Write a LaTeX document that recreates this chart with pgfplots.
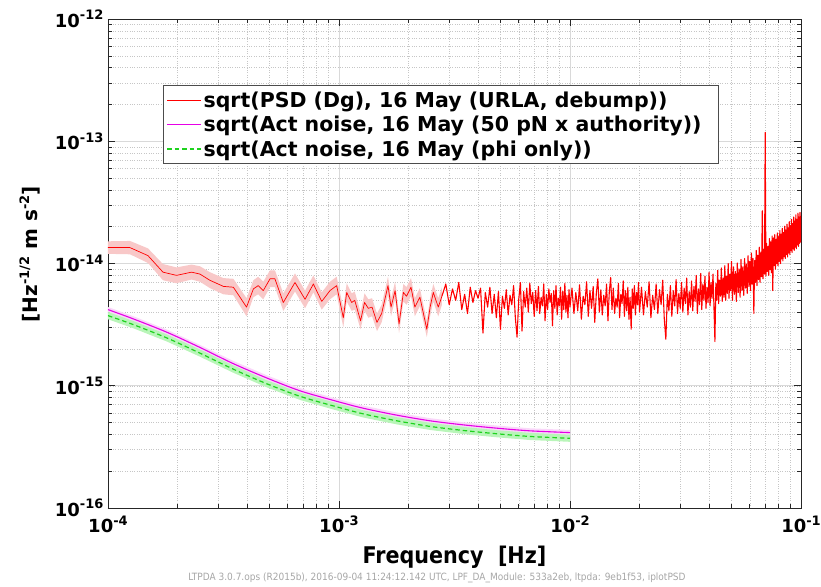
\documentclass[border=0pt]{standalone}
\usepackage{pgfplots}
\pgfplotsset{compat=1.18}
\usepackage{pgfplotstable}
\usepackage{fontspec}
\setmainfont{DejaVu Sans}
\newfontfamily\condfont{DejaVu Sans Condensed}
\definecolor{psdred}{rgb}{1,0,0}
\definecolor{bandred}{RGB}{248,200,200}
\definecolor{actmag}{RGB}{230,0,230}
\definecolor{bandmag}{RGB}{250,215,250}
\definecolor{actgreen}{RGB}{30,210,30}
\definecolor{bandgreen}{RGB}{185,245,185}
\newcommand{\tl}[1]{{\fontsize{18bp}{18bp}\selectfont\bfseries 10\raisebox{0.78ex}{\fontsize{13bp}{13bp}\selectfont\bfseries -#1}}}

% PSD, low-frequency (averaged) part
\pgfplotstableread{
f y
1.0e-4 13.5e-15
1.245e-4 13.5e-15
1.49e-4 11.6e-15
1.73e-4 8.5e-15
1.98e-4 8.0e-15
2.30e-4 8.5e-15
2.50e-4 8.2e-15
2.76e-4 7.3e-15
3.16e-4 6.5e-15
3.49e-4 6.4e-15
3.98e-4 4.4e-15
4.26e-4 6.2e-15
4.47e-4 6.6e-15
4.70e-4 6.0e-15
5.03e-4 7.5e-15
5.28e-4 7.5e-15
5.74e-4 4.8e-15
6.45e-4 7.0e-15
7.13e-4 5.1e-15
7.75e-4 6.8e-15
8.42e-4 4.9e-15
9.14e-4 6.0e-15
9.77e-4 6.6e-15
1.044e-3 3.6e-15
1.08e-3 5.8e-15
1.135e-3 4.8e-15
1.17e-3 5.0e-15
1.24e-3 3.4e-15
1.29e-3 4.8e-15
1.34e-3 4.3e-15
1.39e-3 4.4e-15
1.46e-3 3.3e-15
1.53e-3 3.9e-15
1.63e-3 6.6e-15
1.68e-3 4.4e-15
1.75e-3 6.0e-15
1.82e-3 3.2e-15
1.90e-3 5.8e-15
1.96e-3 5.4e-15
2.05e-3 6.4e-15
2.13e-3 4.4e-15
2.24e-3 5.3e-15
2.40e-3 2.9e-15
2.48e-3 4.4e-15
2.56e-3 5.8e-15
2.69e-3 4.4e-15
2.79e-3 5.4e-15
}\psdlow

% PSD, high-frequency (dense) part
\pgfplotstableread{
f y
2.79e-3 5.4e-15
0.0029 6.8e-15
0.0030 4.6e-15
0.0031 6.2e-15
0.0032 5.0e-15
0.0033 7.0e-15
0.0034 4.2e-15
0.0035 5.6e-15
0.0036 3.9e-15
0.0037 6.4e-15
0.0038 4.8e-15
0.0039 6.0e-15
0.0040 5.2e-15
0.0041 6.3e-15
0.0042 2.7e-15
0.0043 5.8e-15
0.0044 4.4e-15
0.0045 6.4e-15
0.0046 3.9e-15
0.0047 5.6e-15
0.0048 3.6e-15
0.0049 5.9e-15
0.0050 2.9e-15
0.0051 5.4e-15
0.0052 4.3e-15
0.0053 6.1e-15
0.0054 3.8e-15
0.0055 5.5e-15
0.0056 4.6e-15
0.0057 6.6e-15
0.0058 3.6e-15
0.0059 2.5e-15
0.0060 5.1e-15
0.0061 7.0e-15
0.0062 2.8e-15
0.0063 5.9e-15
0.0064 4.4e-15
0.0065 6.3e-15
0.0066 4.0e-15
0.0067 6.9e-15
0.0068 4.7e-15
0.0069 5.8e-15
0.0070 3.7e-15
0.0071 6.0e-15
0.0072 4.1e-15
0.0073 6.5e-15
0.0074 3.9e-15
0.0075 5.3e-15
0.0076 4.5e-15
0.0077 6.8e-15
0.0078 3.4e-15
0.0079 5.6e-15
0.0080 4.2e-15
0.0081 6.2e-15
0.0082 4.8e-15
0.0083 5.7e-15
0.0084 3.1e-15
0.0085 6.0e-15
0.0086 4.3e-15
0.0087 6.6e-15
0.0088 3.8e-15
0.0089 5.2e-15
0.0090 4.5e-15
0.0091 6.4e-15
0.0092 3.5e-15
0.0093 5.9e-15
0.0094 4.2e-15
0.0095 6.9e-15
0.0096 4.0e-15
0.0097 5.5e-15
0.0098 3.6e-15
0.0099 6.1e-15
0.0100 4.4e-15
0.0102 6.3e-15
0.0104 3.9e-15
0.0106 5.8e-15
0.0108 4.1e-15
0.0110 6.7e-15
0.0112 3.5e-15
0.0114 5.4e-15
0.0116 4.6e-15
0.0118 7.1e-15
0.0120 3.7e-15
0.0122 6.0e-15
0.0124 4.3e-15
0.0126 6.5e-15
0.0128 3.3e-15
0.0130 5.7e-15
0.0132 7.5e-15
0.0134 4.0e-15
0.0136 6.1e-15
0.0138 3.8e-15
0.0140 5.5e-15
0.0142 4.5e-15
0.0144 6.8e-15
0.0146 3.4e-15
0.0148 5.9e-15
0.0150 7.7e-15
0.0152 4.2e-15
0.0154 6.3e-15
0.0156 3.9e-15
0.0158 5.2e-15
0.0160 4.4e-15
0.0162 6.9e-15
0.0164 3.6e-15
0.0166 5.6e-15
0.0168 4.7e-15
0.0170 7.2e-15
0.0172 3.7e-15
0.0174 6.0e-15
0.0176 4.1e-15
0.0178 6.4e-15
0.0180 3.5e-15
0.0182 5.3e-15
0.0184 2.9e-15
0.0186 6.2e-15
0.0188 4.3e-15
0.0190 6.6e-15
0.0192 3.8e-15
0.0194 5.8e-15
0.0196 4.6e-15
0.0198 7.0e-15
0.0200 4.0e-15
0.0204 6.4e-15
0.0208 3.8e-15
0.0212 5.9e-15
0.0216 4.4e-15
0.0220 7.1e-15
0.0224 3.6e-15
0.0228 5.5e-15
0.0232 4.2e-15
0.0236 6.8e-15
0.0240 3.9e-15
0.0244 6.1e-15
0.0248 4.6e-15
0.0252 7.3e-15
0.0256 3.5e-15
0.0260 2.4e-15
0.0264 5.6e-15
0.0268 4.1e-15
0.0272 6.6e-15
0.0276 3.7e-15
0.0280 6.0e-15
0.0284 4.5e-15
0.0288 7.4e-15
0.0292 3.9e-15
0.0296 5.7e-15
0.0300 4.3e-15
0.0304 7.0e-15
0.0308 4.0e-15
0.0312 6.3e-15
0.0316 4.7e-15
0.0320 7.6e-15
0.0324 3.8e-15
0.0328 5.9e-15
0.0332 4.4e-15
0.0336 7.2e-15
0.0340 4.1e-15
0.0344 6.5e-15
0.0348 4.9e-15
0.0352 8.0e-15
0.0356 3.9e-15
0.0360 6.2e-15
0.0364 4.6e-15
0.0368 8.3e-15
0.0372 4.2e-15
0.0376 6.8e-15
0.0380 5.0e-15
0.0384 7.9e-15
0.0388 4.3e-15
0.0392 6.4e-15
0.0396 4.8e-15
0.0400 8.5e-15
0.0404 4.5e-15
0.0408 7.0e-15
0.0412 5.2e-15
0.0416 8.2e-15
0.0420 4.4e-15
0.0424 2.3e-15
0.0428 6.9e-15
0.0432 5.0e-15
0.0436 8.8e-15
0.0440 4.7e-15
0.0444 7.3e-15
0.0448 5.4e-15
0.0452 9.2e-15
0.0456 4.9e-15
0.0460 7.6e-15
0.0464 5.3e-15
0.0468 9.6e-15
0.0472 5.0e-15
0.0476 7.9e-15
0.0480 5.7e-15
0.0484 10.0e-15
0.0488 5.2e-15
0.0492 8.2e-15
0.0496 6.0e-15
0.0500 10.4e-15
0.0505 5.0e-15
0.0510 9.4e-15
0.0515 5.6e-15
0.0520 8.6e-15
0.0525 4.9e-15
0.0530 10.1e-15
0.0535 5.8e-15
0.0540 9.0e-15
0.0545 5.3e-15
0.0550 10.8e-15
0.0555 6.0e-15
0.0560 9.4e-15
0.0565 5.5e-15
0.0570 11.0e-15
0.0575 6.3e-15
0.0580 9.9e-15
0.0585 5.7e-15
0.0590 11.6e-15
0.0595 6.5e-15
0.0600 10.4e-15
0.0605 6.0e-15
0.0610 12.2e-15
0.0615 6.8e-15
0.0620 11.0e-15
0.0625 3.9e-15
0.0630 10.6e-15
0.0635 7.0e-15
0.0640 12.8e-15
0.0645 6.6e-15
0.0650 11.7e-15
0.0655 7.4e-15
0.0660 13.6e-15
0.0665 7.0e-15
0.0670 12.4e-15
0.0675 7.8e-15
0.0680 27.0e-15
0.0685 7.5e-15
0.0690 13.0e-15
0.0695 8.2e-15
0.0700 118.0e-15
0.0705 7.9e-15
0.0710 14.6e-15
0.0715 8.6e-15
0.0720 13.8e-15
0.0725 8.0e-15
0.0730 16.0e-15
0.0735 8.9e-15
0.0740 15.0e-15
0.0745 8.4e-15
0.0750 16.8e-15
0.0755 6.0e-15
0.0760 16.2e-15
0.0765 9.6e-15
0.0770 17.2e-15
0.0775 9.0e-15
0.0780 15.8e-15
0.0785 10.0e-15
0.0790 17.8e-15
0.0795 9.6e-15
0.0800 16.6e-15
0.0805 10.4e-15
0.0810 18.6e-15
0.0815 10.0e-15
0.0820 17.4e-15
0.0825 10.9e-15
0.0830 19.4e-15
0.0835 10.5e-15
0.0840 18.0e-15
0.0845 11.4e-15
0.0850 20.2e-15
0.0855 11.0e-15
0.0860 18.8e-15
0.0865 11.8e-15
0.0870 21.0e-15
0.0875 11.3e-15
0.0880 19.6e-15
0.0885 12.2e-15
0.0890 22.0e-15
0.0895 11.8e-15
0.0900 20.4e-15
0.0905 12.7e-15
0.0910 23.0e-15
0.0915 12.3e-15
0.0920 21.2e-15
0.0925 13.2e-15
0.0930 24.0e-15
0.0935 12.8e-15
0.0940 22.2e-15
0.0945 13.6e-15
0.0950 25.0e-15
0.0955 13.2e-15
0.0960 23.0e-15
0.0965 14.2e-15
0.0970 25.8e-15
0.0975 13.8e-15
0.0980 24.0e-15
0.0985 14.6e-15
0.0990 26.2e-15
0.0995 15.0e-15
0.1000 24.5e-15
}\psdhigh

% actuation noise curves
\pgfplotstableread{
f mag phi
1.00e-4 4.20e-15 3.75e-15
1.29e-4 3.52e-15 3.16e-15
1.80e-4 2.74e-15 2.46e-15
2.50e-4 2.06e-15 1.85e-15
3.48e-4 1.52e-15 1.37e-15
4.86e-4 1.16e-15 1.04e-15
6.78e-4 0.91e-15 0.82e-15
9.44e-4 0.76e-15 0.685e-15
1.27e-3 0.656e-15 0.59e-15
1.78e-3 0.575e-15 0.517e-15
2.48e-3 0.517e-15 0.465e-15
3.45e-3 0.479e-15 0.431e-15
4.82e-3 0.450e-15 0.405e-15
6.71e-3 0.428e-15 0.385e-15
1.00e-2 0.414e-15 0.372e-15
}\act

\begin{document}
\begin{tikzpicture}
\useasboundingbox (0,0) rectangle (821bp,587bp);
\begin{axis}[
  at={(108bp,79bp)}, anchor=south west,
  width=693bp, height=489bp, scale only axis,
  xmode=log, ymode=log,
  xmin=1e-4, xmax=1e-1, ymin=1e-16, ymax=1e-12,
  xtick={1e-4,1e-3,1e-2,1e-1},
  xticklabels={\tl{4},\tl{3},\tl{2},\tl{1}},
  ytick={1e-16,1e-15,1e-14,1e-13,1e-12},
  yticklabels={\tl{16},\tl{15},\tl{14},\tl{13},\tl{12}},
  tick align=inside,
  major tick length=7bp, minor tick length=4bp,
  tick style={black!85, line width=0.6pt},
  axis line style={black!85, line width=0.8pt},
  grid=both,
  major grid style={gray!30, line width=0.6pt},
  minor grid style={gray!45, dotted, line width=0.5pt},
  xticklabel style={anchor=north, yshift=-4bp},
  yticklabel style={anchor=east, xshift=-1bp},
  xlabel={\condfont\bfseries Frequency\ \ [Hz]},
  xlabel style={at={(axis description cs:0.5,-0.1)}, anchor=center, font=\fontsize{23bp}{23bp}\selectfont},
  ylabel={\bfseries [Hz\raisebox{0.8ex}{\fontsize{13bp}{13bp}\selectfont -1/2} m s\raisebox{0.8ex}{\fontsize{13bp}{13bp}\selectfont -2}]},
  ylabel style={at={(axis description cs:-0.1126,0.519)}, anchor=center, font=\fontsize{20bp}{20bp}\selectfont},
  legend style={at={(0.0794,0.865)}, anchor=north west, draw=black!70, line width=0.8pt, fill=white,
    font=\fontsize{20.5bp}{23bp}\selectfont\bfseries, inner xsep=3bp, inner ysep=4bp, row sep=3.5bp,
    cells={anchor=west}},
]
% PSD uncertainty band (upper edge forward, lower edge backward)
\addplot[fill=bandred, draw=none, forget plot] coordinates {
(1.0e-4,15.2e-15)(1.245e-4,15.3e-15)(1.49e-4,13.3e-15)(1.73e-4,9.9e-15)(1.98e-4,9.3e-15)(2.30e-4,9.8e-15)(2.50e-4,9.5e-15)(2.76e-4,8.5e-15)(3.16e-4,7.6e-15)(3.49e-4,7.5e-15)(3.98e-4,5.2e-15)(4.26e-4,7.3e-15)(4.47e-4,7.8e-15)(4.70e-4,7.1e-15)(5.03e-4,8.8e-15)(5.28e-4,8.8e-15)(5.74e-4,5.7e-15)(6.45e-4,8.3e-15)(7.13e-4,6.0e-15)(7.75e-4,8.0e-15)(8.42e-4,5.8e-15)(9.14e-4,7.1e-15)(9.77e-4,7.8e-15)(1.044e-3,4.3e-15)(1.08e-3,6.9e-15)(1.135e-3,5.7e-15)(1.17e-3,5.9e-15)(1.24e-3,4.0e-15)(1.29e-3,5.7e-15)(1.34e-3,5.1e-15)(1.39e-3,5.2e-15)(1.46e-3,3.9e-15)(1.53e-3,4.6e-15)(1.63e-3,7.8e-15)(1.68e-3,5.2e-15)(1.75e-3,7.1e-15)(1.82e-3,3.8e-15)(1.90e-3,6.8e-15)(1.96e-3,6.4e-15)(2.05e-3,7.6e-15)(2.13e-3,5.2e-15)(2.24e-3,6.3e-15)(2.40e-3,3.4e-15)(2.48e-3,5.2e-15)(2.56e-3,6.8e-15)(2.69e-3,5.2e-15)(2.79e-3,6.4e-15)
(2.79e-3,4.6e-15)(2.69e-3,3.7e-15)(2.56e-3,4.9e-15)(2.48e-3,3.7e-15)(2.40e-3,2.5e-15)(2.24e-3,4.5e-15)(2.13e-3,3.7e-15)(2.05e-3,5.4e-15)(1.96e-3,4.6e-15)(1.90e-3,4.9e-15)(1.82e-3,2.7e-15)(1.75e-3,5.1e-15)(1.68e-3,3.7e-15)(1.63e-3,5.6e-15)(1.53e-3,3.3e-15)(1.46e-3,2.8e-15)(1.39e-3,3.7e-15)(1.34e-3,3.6e-15)(1.29e-3,4.1e-15)(1.24e-3,2.9e-15)(1.17e-3,4.2e-15)(1.135e-3,4.1e-15)(1.08e-3,4.9e-15)(1.044e-3,3.0e-15)(9.77e-4,5.6e-15)(9.14e-4,5.1e-15)(8.42e-4,4.2e-15)(7.75e-4,5.8e-15)(7.13e-4,4.3e-15)(6.45e-4,5.9e-15)(5.74e-4,4.1e-15)(5.28e-4,6.4e-15)(5.03e-4,6.4e-15)(4.70e-4,5.1e-15)(4.47e-4,5.6e-15)(4.26e-4,5.3e-15)(3.98e-4,3.7e-15)(3.49e-4,5.5e-15)(3.16e-4,5.6e-15)(2.76e-4,6.3e-15)(2.50e-4,7.1e-15)(2.30e-4,7.4e-15)(1.98e-4,6.9e-15)(1.73e-4,7.3e-15)(1.49e-4,10.1e-15)(1.245e-4,11.9e-15)(1.0e-4,12.0e-15)
};
% actuation noise bands
\addplot[fill=bandmag, draw=none, forget plot] coordinates {
(1.00e-4,4.41e-15)(1.29e-4,3.70e-15)(1.80e-4,2.88e-15)(2.50e-4,2.16e-15)(3.48e-4,1.60e-15)(4.86e-4,1.22e-15)(6.78e-4,0.956e-15)(9.44e-4,0.798e-15)(1.27e-3,0.689e-15)(1.78e-3,0.604e-15)(2.48e-3,0.543e-15)(3.45e-3,0.503e-15)(4.82e-3,0.473e-15)(6.71e-3,0.449e-15)(1.00e-2,0.435e-15)
(1.00e-2,0.394e-15)(6.71e-3,0.408e-15)(4.82e-3,0.429e-15)(3.45e-3,0.456e-15)(2.48e-3,0.492e-15)(1.78e-3,0.548e-15)(1.27e-3,0.625e-15)(9.44e-4,0.724e-15)(6.78e-4,0.867e-15)(4.86e-4,1.10e-15)(3.48e-4,1.45e-15)(2.50e-4,1.96e-15)(1.80e-4,2.61e-15)(1.29e-4,3.35e-15)(1.00e-4,4.00e-15)
};
\addplot[fill=bandgreen, draw=none, forget plot] coordinates {
(1.00e-4,4.01e-15)(1.29e-4,3.38e-15)(1.80e-4,2.63e-15)(2.50e-4,1.98e-15)(3.48e-4,1.47e-15)(4.86e-4,1.11e-15)(6.78e-4,0.877e-15)(9.44e-4,0.733e-15)(1.27e-3,0.631e-15)(1.78e-3,0.553e-15)(2.48e-3,0.498e-15)(3.45e-3,0.461e-15)(4.82e-3,0.433e-15)(6.71e-3,0.412e-15)(1.00e-2,0.398e-15)
(1.00e-2,0.348e-15)(6.71e-3,0.360e-15)(4.82e-3,0.379e-15)(3.45e-3,0.403e-15)(2.48e-3,0.435e-15)(1.78e-3,0.483e-15)(1.27e-3,0.551e-15)(9.44e-4,0.640e-15)(6.78e-4,0.766e-15)(4.86e-4,0.972e-15)(3.48e-4,1.28e-15)(2.50e-4,1.73e-15)(1.80e-4,2.30e-15)(1.29e-4,2.95e-15)(1.00e-4,3.50e-15)
};

\addplot[psdred, line width=1.1pt, line join=round, forget plot] table[x=f, y=y] {\psdhigh};
\addplot[psdred, line width=0.7pt, line join=round,
  legend image code/.code={\draw[psdred, line width=0.7pt] (0bp,0bp) -- (34bp,0bp);}] table[x=f, y=y] {\psdlow};
\addlegendentry{sqrt(PSD (Dg), 16 May (URLA, debump))}
\addplot[actmag, line width=1.1pt, smooth,
  legend image code/.code={\draw[actmag, line width=1.1pt] (0bp,0bp) -- (34bp,0bp);}] table[x=f, y=mag] {\act};
\addlegendentry{sqrt(Act noise, 16 May (50 pN x authority))\hspace*{12bp}}
\addplot[color=actgreen, line width=1.2pt, dash pattern=on 4.5bp off 3bp, smooth,
  legend image code/.code={\draw[color=actgreen, line width=1.2pt, dash pattern=on 4.5bp off 3bp] (0bp,0bp) -- (34bp,0bp);}] table[x=f, y=phi] {\act};
\addlegendentry{sqrt(Act noise, 16 May (phi only))}
\end{axis}
\node[anchor=center, text=gray!70, font=\condfont\fontsize{10bp}{10bp}\selectfont] at (437bp,9bp)
  {LTPDA 3.0.7.ops (R2015b), 2016-09-04 11:24:12.142 UTC, LPF\_DA\_Module: 533a2eb, ltpda: 9eb1f53, iplotPSD};
\end{tikzpicture}
\end{document}
